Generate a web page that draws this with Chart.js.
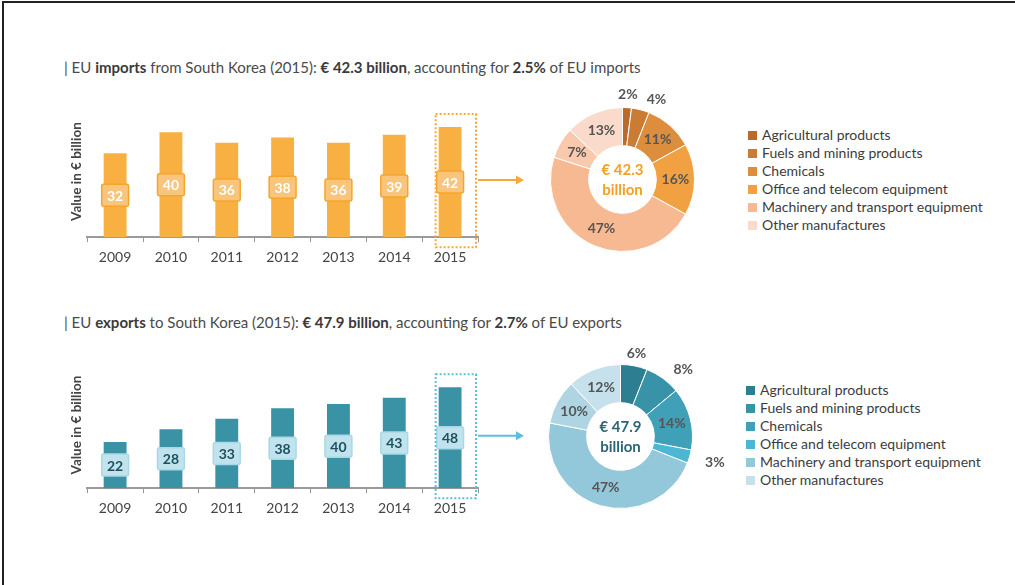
<!DOCTYPE html>
<html lang="en">
<head>
    <meta charset="UTF-8">
    <title>EU trade with South Korea</title>
    <script src="https://cdnjs.cloudflare.com/ajax/libs/Chart.js/4.4.1/chart.umd.min.js"></script>
    <style>
        body {
            margin: 0;
            width: 1015px;
            height: 585px;
            overflow: hidden;
            background: #fff;
            font-family: Lato, "Open Sans", sans-serif;
            color: #444;
        }
        #frame {
            position: absolute;
            left: 2px;
            top: 1px;
            width: 1020px;
            height: 600px;
            border-top: 2px solid #222;
            border-left: 2px solid #222;
        }
        .title {
            position: absolute;
            left: 64px;
            font-size: 15px;
            line-height: 18px;
            color: #4a4a4a;
            white-space: nowrap;
        }
        .title b { color: #3a3a3a; }
        .box { position: absolute; }
        .legend {
            position: absolute;
            font-size: 14px;
            color: #3c3c3c;
            line-height: 18px;
        }
        .legend div { white-space: nowrap; }
        .legend span {
            display: inline-block;
            width: 9px;
            height: 9px;
            margin-right: 5px;
            vertical-align: 0px;
        }
    </style>
</head>
<body>
    <div id="frame"></div>

    <div class="title" style="top:58px">| EU <b>imports</b> from South Korea (2015): <b>€ 42.3 billion</b>, accounting for <b>2.5%</b> of EU imports</div>
    <div class="box" style="left:56px; top:95px; width:474px; height:185px"><canvas id="importBars"></canvas></div>
    <div class="box" style="left:520px; top:80px; width:215px; height:200px"><canvas id="importPie"></canvas></div>
    <div class="legend" id="importLegend" style="left:748px; top:126px"></div>

    <div class="title" style="top:313px">| EU <b>exports</b> to South Korea (2015): <b>€ 47.9 billion</b>, accounting for <b>2.7%</b> of EU exports</div>
    <div class="box" style="left:56px; top:350px; width:474px; height:181px"><canvas id="exportBars"></canvas></div>
    <div class="box" style="left:518px; top:337px; width:215px; height:200px"><canvas id="exportPie"></canvas></div>
    <div class="legend" id="exportLegend" style="left:746px; top:381px"></div>

    <script>
        // yearly trade values, € billion
        const years = ['2009', '2010', '2011', '2012', '2013', '2014', '2015'];
        const importValues = [32, 40, 36, 38, 36, 39, 42];
        const exportValues = [22, 28, 33, 38, 40, 43, 48];

        // 2015 breakdown by product group, % of total
        const productGroups = [
            'Agricultural products',
            'Fuels and mining products',
            'Chemicals',
            'Office and telecom equipment',
            'Machinery and transport equipment',
            'Other products',
            'Other manufactures'
        ];
        const importShares = [2, 4, 11, 16, 47, 7, 13];
        const exportShares = [6, 8, 14, 3, 47, 10, 12];
        const importTotal = '42.3';
        const exportTotal = '47.9';

        const importColours = ['#b86b2c', '#ca7c35', '#dc8e3d', '#f1a142', '#f6b992', '#f8c9ad', '#fadbcb'];
        const exportColours = ['#2e7e92', '#3892a8', '#3fa0b8', '#4bb7d2', '#93c8da', '#afd5e3', '#c6e1eb'];

        Chart.defaults.font.family = 'Lato, "Open Sans", sans-serif';
        Chart.defaults.color = '#444';

        // value badge in the middle of each bar, plus the dotted frame and arrow on the latest year
        const barBadges = {
            id: 'barBadges',
            afterDatasetsDraw(chart, args, opts) {
                const ctx = chart.ctx;
                const bars = chart.getDatasetMeta(0).data;
                const values = chart.data.datasets[0].data;
                ctx.save();
                bars.forEach((bar, i) => {
                    const midY = (bar.y + bar.base) / 2;
                    const w = bar.width + 4, h = 22;
                    ctx.beginPath();
                    ctx.roundRect(bar.x - w / 2, midY - h / 2, w, h, 2);
                    ctx.fillStyle = opts.fill;
                    ctx.fill();
                    ctx.lineWidth = 1.5;
                    ctx.strokeStyle = opts.stroke;
                    ctx.stroke();
                    ctx.fillStyle = opts.text;
                    ctx.font = 'bold 14px Lato, "Open Sans", sans-serif';
                    ctx.textAlign = 'center';
                    ctx.textBaseline = 'middle';
                    ctx.fillText(values[i], bar.x, midY + 1);
                });

                const last = bars[bars.length - 1];
                const left = last.x - last.width / 2 - 3;
                const right = chart.chartArea.right - 2;
                const top = last.y - 13;
                const bottom = last.base + 10;
                ctx.setLineDash([2, 2]);
                ctx.lineWidth = 2;
                ctx.strokeStyle = opts.frame;
                ctx.strokeRect(left, top, right - left, bottom - top);
                ctx.setLineDash([]);

                const ay = (last.y + last.base) / 2 - 2;
                const ax = right + 2 + opts.arrowLength;
                ctx.beginPath();
                ctx.moveTo(right + 2, ay);
                ctx.lineTo(ax - 4, ay);
                ctx.stroke();
                ctx.beginPath();
                ctx.moveTo(ax, ay);
                ctx.lineTo(ax - 8, ay - 4.5);
                ctx.lineTo(ax - 8, ay + 4.5);
                ctx.closePath();
                ctx.fillStyle = opts.frame;
                ctx.fill();
                ctx.restore();
            }
        };

        // percentage labels on the slices and the total in the hole
        const sliceLabels = {
            id: 'sliceLabels',
            afterDatasetsDraw(chart, args, opts) {
                const ctx = chart.ctx;
                const arcs = chart.getDatasetMeta(0).data;
                const values = chart.data.datasets[0].data;
                ctx.save();
                ctx.font = 'bold 14px Lato, "Open Sans", sans-serif';
                ctx.fillStyle = '#555';
                ctx.textBaseline = 'middle';
                arcs.forEach((arc, i) => {
                    const p = arc.getProps(['x', 'y', 'startAngle', 'endAngle', 'innerRadius', 'outerRadius'], true);
                    const mid = (p.startAngle + p.endAngle) / 2;
                    const outside = opts.outside.includes(i);
                    const r = outside ? p.outerRadius + 13 : (p.innerRadius + p.outerRadius) / 2;
                    const cx = p.x + Math.cos(mid) * r;
                    const cy = p.y + Math.sin(mid) * r;
                    const sideways = outside && Math.cos(mid) > 0.2;
                    ctx.textAlign = sideways ? 'left' : 'center';
                    ctx.fillText(values[i] + '%', cx + (sideways ? 3 : 0), cy + (sideways ? 2 : 0));
                });
                const c = arcs[0];
                ctx.font = 'bold 15px Lato, "Open Sans", sans-serif';
                ctx.fillStyle = opts.centreColour;
                ctx.textAlign = 'center';
                ctx.fillText('€ ' + opts.total, c.x, c.y - 9);
                ctx.fillText('billion', c.x, c.y + 11);
                ctx.restore();
            }
        };

        function barChart(id, values, yMax, colour, badge, padTop, padBottom) {
            return new Chart(document.getElementById(id), {
                type: 'bar',
                data: {
                    labels: years,
                    datasets: [{
                        data: values,
                        backgroundColor: colour,
                        barPercentage: 0.41,
                        categoryPercentage: 1
                    }]
                },
                options: {
                    responsive: true,
                    maintainAspectRatio: false,
                    animation: false,
                    layout: { padding: { left: 11, right: 52, top: padTop, bottom: padBottom } },
                    plugins: { legend: { display: false }, tooltip: { enabled: false }, barBadges: badge },
                    scales: {
                        x: {
                            grid: { display: true, drawOnChartArea: false, drawTicks: true, tickLength: 5, color: '#999', offset: true },
                            border: { display: true, color: '#9a9a9a', width: 2 },
                            ticks: { font: { size: 14 }, color: '#444', padding: 7 }
                        },
                        y: {
                            min: 0,
                            max: yMax,
                            grid: { display: false, drawTicks: false },
                            border: { display: false },
                            ticks: { display: false },
                            title: {
                                display: true,
                                text: 'Value in € billion',
                                font: { size: 13.5, weight: 'bold' },
                                color: '#444',
                                padding: { top: 2, bottom: 2 }
                            }
                        }
                    }
                },
                plugins: [barBadges]
            });
        }

        function pieChart(id, shares, colours, total, centreColour, outside) {
            return new Chart(document.getElementById(id), {
                type: 'doughnut',
                data: {
                    labels: productGroups,
                    datasets: [{
                        data: shares,
                        backgroundColor: colours,
                        borderColor: '#fff',
                        borderWidth: 1
                    }]
                },
                options: {
                    responsive: true,
                    maintainAspectRatio: false,
                    animation: false,
                    cutout: '47%',
                    layout: { padding: { left: 30, right: 40, top: 27, bottom: 28 } },
                    plugins: {
                        legend: { display: false },
                        tooltip: { enabled: false },
                        sliceLabels: { total, centreColour, outside }
                    }
                },
                plugins: [sliceLabels]
            });
        }

        function buildLegend(id, colours) {
            const el = document.getElementById(id);
            productGroups.forEach((name, i) => {
                if (name === 'Other products') return;
                const row = document.createElement('div');
                row.innerHTML = '<span style="background:' + colours[i] + '"></span>' + name;
                el.appendChild(row);
            });
        }

        barChart('importBars', importValues, 50, '#f8b042',
            { fill: '#f9c57c', stroke: '#f4a62c', text: '#fff', frame: '#f6a93a', arrowLength: 46 }, 11, 7);
        barChart('exportBars', exportValues, 60, '#3a92a5',
            { fill: '#c0e3ed', stroke: '#a9d8e6', text: '#1f4f5f', frame: '#5bbfdc', arrowLength: 46 }, 12, 7);

        pieChart('importPie', importShares, importColours, importTotal, '#f4a024', [0, 1]);
        pieChart('exportPie', exportShares, exportColours, exportTotal, '#2b6676', [0, 1, 3]);

        buildLegend('importLegend', importColours);
        buildLegend('exportLegend', exportColours);
    </script>
</body>
</html>
